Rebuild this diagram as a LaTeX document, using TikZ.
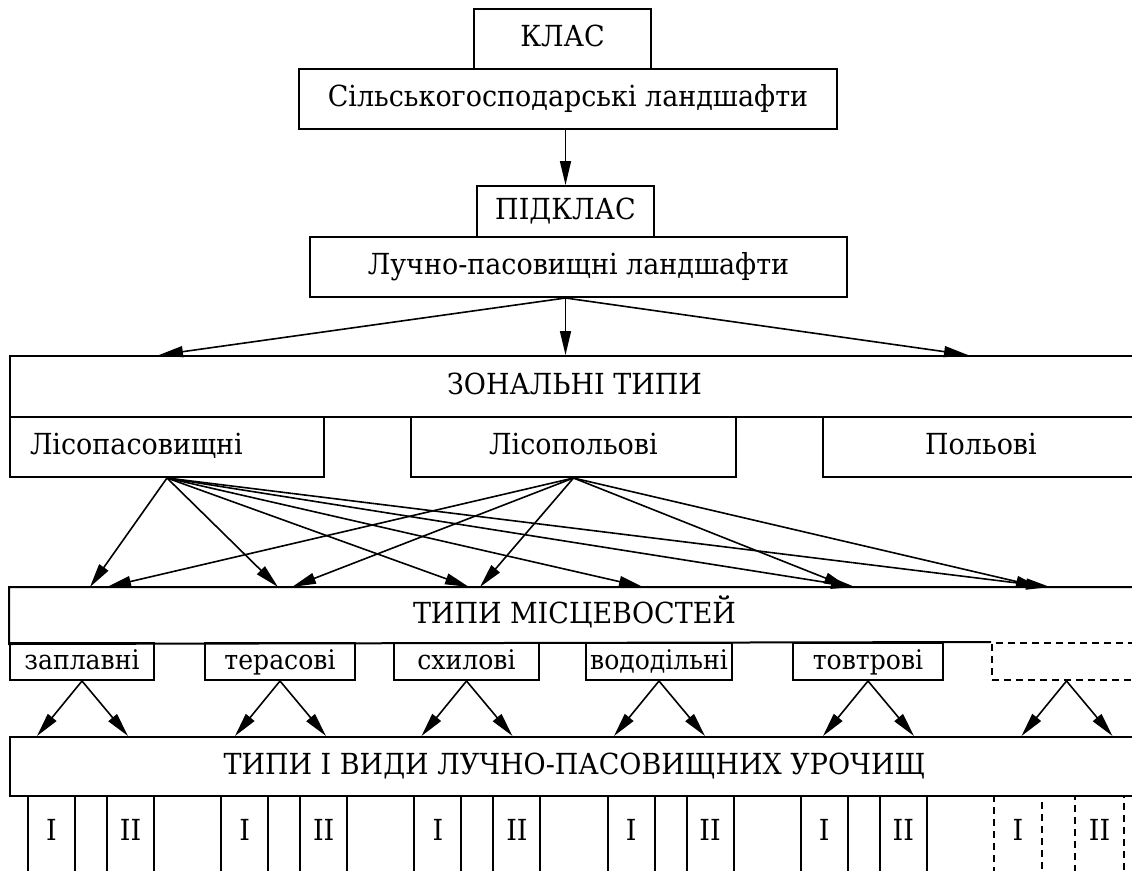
\documentclass[tikz,border=0pt]{standalone}
\usepackage{fontspec}
\setmainfont{DejaVu Serif}[FakeStretch=0.93]
\usetikzlibrary{arrows.meta,calc,positioning}

\begin{document}
\begin{tikzpicture}[x=1pt, y=-1pt,
  font=\fontsize{29}{34}\selectfont,
  box/.style={draw=black, line width=2pt, inner sep=0pt, align=center,
    anchor=north west, text height=21pt, text depth=6pt},
  smallbox/.style={box, minimum height=37pt, font=\fontsize{27}{32}\selectfont},
  dashbox/.style={box, dash pattern=on 7pt off 5pt},
  colbox/.style={box, minimum height=85pt},
  flow/.style={-{Triangle[length=24pt, width=11pt]}, line width=1.6pt},
]
  \useasboundingbox (0,0) rectangle (1132,870);
  \clip (0,0) rectangle (1132,870);

  \node[box, minimum width=177pt, minimum height=60pt] (klas) at (473,8) {КЛАС};
  \node[box, minimum width=538pt, minimum height=60pt] (silsk) at (298,68)
    {Сільськогосподарські ландшафти};
  \node[box, minimum width=177pt, minimum height=51pt] (pidklas) at (476,185)
    {ПІДКЛАС};
  \node[box, minimum width=537pt, minimum height=60pt] (luchno) at (309,236)
    {Лучно-пасовищні ландшафти};
  \draw[flow] (pidklas.north |- silsk.south) -- (pidklas.north);

  \node[box, minimum width=1129pt, minimum height=61pt] (zonal) at (9,355)
    {ЗОНАЛЬНІ ТИПИ};
  \node[box, minimum height=60pt, text width=274pt, inner xsep=20pt, align=left]
    (lisopas) at (9,416) {Лісопасовищні};
  \node[box, minimum width=325pt, minimum height=60pt] (lisopol) at (410,416)
    {Лісопольові};
  \node[box, minimum width=316pt, minimum height=60pt] (polovi) at (822,416)
    {Польові};
  \coordinate (luchno-out) at (pidklas.south |- luchno.south);
  \draw[flow] (luchno-out) -- ([xshift=150pt]zonal.north west);
  \draw[flow] (luchno-out) -- (luchno-out |- zonal.north);
  \draw[flow] (luchno-out) -- ([xshift=959pt]zonal.north west);

  \node[box, draw=none, minimum width=1129pt, minimum height=55pt] (mists)
    at (9,587) {ТИПИ МІСЦЕВОСТЕЙ};
  \node[smallbox, minimum width=144pt] (zaplav) at (9,642) {заплавні};
  \node[smallbox, minimum width=150pt] (teras) at (204,642) {терасові};
  \node[smallbox, minimum width=145pt] (skhyl) at (393,642) {схилові};
  \node[smallbox, minimum width=146pt] (vodod) at (585,642) {вододільні};
  \node[smallbox, minimum width=150pt] (tovtr) at (792,642) {товтрові};
  \node[dashbox, minimum width=149pt, minimum height=37pt] (inshi) at (991,642) {};
  \draw[line width=2pt] (inshi.north west) -- (mists.south west)
    -- (mists.north west) -- (mists.north east) -- (mists.south east);
  \foreach \s in {81,269,460,634,846,1041}
    \draw[flow] (lisopas.south) -- ([xshift=\s pt]mists.north west);
  \foreach \s in {98,283,471,839,1031}
    \draw[flow] (lisopol.south) -- ([xshift=\s pt]mists.north west);

  \node[box, minimum width=1129pt, minimum height=59pt] (urochy) at (9,736)
    {ТИПИ І ВИДИ ЛУЧНО-ПАСОВИЩНИХ УРОЧИЩ};
  \foreach \m in {zaplav,teras,skhyl,vodod,tovtr,inshi} {
    \draw[flow] (\m.south) -- ([xshift=-45pt]\m.south |- urochy.north);
    \draw[flow] (\m.south) -- ([xshift=46pt]\m.south |- urochy.north);
  }

  \foreach \g in {0,...,4} {
    \pgfmathsetmacro\cx{27+193.2*\g}
    \node[colbox, minimum width=47pt] (col-\g-i) at (\cx,795) {};
    \node[colbox, minimum width=47pt] (col-\g-ii) at (\cx+79,795) {};
    \node[yshift=9pt] (num-\g-i) at (col-\g-i.center) {I};
    \node[yshift=9pt] (num-\g-ii) at (col-\g-ii.center) {II};
  }
  \node[colbox, dash pattern=on 7pt off 5pt, minimum width=48pt] (col-5-i)
    at (993,795) {};
  \node[colbox, dash pattern=on 7pt off 5pt, minimum width=49pt] (col-5-ii)
    at (1074,795) {};
  \node[yshift=9pt] (num-5-i) at (col-5-i.center) {I};
  \node[yshift=9pt] (num-5-ii) at (col-5-ii.center) {II};
\end{tikzpicture}
\end{document}
